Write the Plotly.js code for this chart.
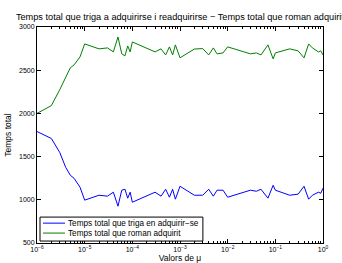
<!DOCTYPE html>
<html>
<head>
<meta charset="utf-8">
<script src="https://cdn.plot.ly/plotly-3.0.1.min.js"></script>
<style>html,body{margin:0;padding:0;background:#fff;}#chart{width:342px;height:263px;}</style>
</head>
<body>
<div id="chart"></div>
<script>
const mu = [1e-6, 2e-6, 3e-6, 4e-6, 5e-6, 6e-6, 8e-6, 1e-5, 2e-5, 3e-5, 4e-5, 5e-5, 6e-5, 7e-5, 8e-5, 9e-5, 1e-4,
  3e-4, 4e-4, 5e-4, 6e-4, 7e-4, 8e-4, 1e-3, 2e-3, 3e-3, 4e-3, 5e-3, 6e-3, 8e-3, 1e-2,
  3e-2, 4e-2, 5e-2, 7e-2, 9e-2, 1e-1, 0.2, 0.3, 0.4, 0.5, 0.6, 0.8, 0.9, 1];
const tempsTriga = [1790, 1710, 1548, 1376, 1284, 1249, 1145, 996, 1053, 1042, 1088, 926, 1111, 1122, 1019, 1088, 972,
  1088, 1042, 1122, 1030, 1122, 1007, 1157, 1053, 1053, 1122, 1042, 1111, 1111, 1030,
  1111, 1099, 1122, 1019, 1168, 1111, 1053, 1065, 1157, 1007, 1053, 1088, 1076, 1134];
const tempsRoman = [2000, 2090, 2274, 2424, 2528, 2562, 2654, 2804, 2747, 2758, 2712, 2885, 2689, 2666, 2781, 2712, 2827,
  2712, 2747, 2677, 2770, 2677, 2793, 2643, 2745, 2750, 2677, 2758, 2689, 2700, 2770,
  2689, 2700, 2677, 2793, 2631, 2700, 2747, 2724, 2643, 2804, 2758, 2712, 2724, 2677];
const seriesNames = ['Temps total que triga en adquirir−se', 'Temps total que roman adquirit'];
const seriesColors = ['#0000ff', '#008000'];
const xTicks = [1e-6, 1e-5, 1e-4, 1e-3, 1e-2, 1e-1, 1];
const xTickText = ['10<sup>−6</sup>', '10<sup>−5</sup>', '10<sup>−4</sup>', '10<sup>−3</sup>', '10<sup>−2</sup>', '10<sup>−1</sup>', '10<sup>0</sup>'];
const yTicks = [500, 1000, 1500, 2000, 2500, 3000];

const minorTicks = [];
for (let d = 0; d < xTicks.length - 1; d++) {
  for (let m = 2; m <= 9; m++) minorTicks.push(xTicks[d] * m);
}

const traces = [
  {x: mu, y: tempsTriga, type: 'scatter', mode: 'lines', name: seriesNames[0],
   line: {color: seriesColors[0], width: 1}, showlegend: false},
  {x: mu, y: tempsRoman, type: 'scatter', mode: 'lines', name: seriesNames[1],
   line: {color: seriesColors[1], width: 1}, showlegend: false}
];
const font = {family: 'Liberation Sans, Arial, sans-serif', color: '#000'};

// legend box (drawn in paper coordinates)
const lg = {x0: 0.0105, x1: 0.58, y0: 0.009, y1: 0.12, lx0: 0.021, lx1: 0.098, tx: 0.105, ys: [0.092, 0.046]};
const shapes = [
  {type: 'rect', xref: 'paper', yref: 'paper', x0: lg.x0, x1: lg.x1, y0: lg.y0, y1: lg.y1,
   line: {color: '#000', width: 1}, fillcolor: '#fff', layer: 'above'}
];
const annotations = [];
seriesNames.forEach((n, i) => {
  shapes.push({type: 'line', xref: 'paper', yref: 'paper', x0: lg.lx0, x1: lg.lx1, y0: lg.ys[i], y1: lg.ys[i],
    line: {color: seriesColors[i], width: 1}, layer: 'above'});
  annotations.push({xref: 'paper', yref: 'paper', x: lg.tx, y: lg.ys[i], xanchor: 'left', yanchor: 'middle',
    text: n, showarrow: false, font: {size: 8.2}, borderpad: 0});
});

const layout = {
  width: 342, height: 263,
  margin: {l: 37, r: 19, t: 27, b: 20, pad: 0},
  paper_bgcolor: '#fff', plot_bgcolor: '#fff',
  font: Object.assign({size: 7}, font),
  showlegend: false,
  title: {text: 'Temps total que triga a adquirirse i readquirirse − Temps total que roman adquirit',
    font: Object.assign({size: 9.2}, font), x: 0.526, xref: 'container', xanchor: 'center', y: 0.935, yanchor: 'middle'},
  xaxis: {type: 'log', range: [-6, 0], tickmode: 'array', tickvals: xTicks, ticktext: xTickText,
    ticks: 'inside', ticklen: 4, tickcolor: '#000', showline: true, linecolor: '#000', linewidth: 1,
    mirror: 'ticks', showgrid: false, zeroline: false, tickfont: {size: 7},
    minor: {tickmode: 'array', tickvals: minorTicks, ticks: 'inside', ticklen: 2, tickcolor: '#000', showgrid: false},
    title: {text: 'Valors de μ', font: {size: 8.5}, standoff: 12}, automargin: false},
  yaxis: {range: [500, 3000], tickvals: yTicks, ticks: 'inside', ticklen: 4, tickcolor: '#000',
    showline: true, linecolor: '#000', linewidth: 1, mirror: 'ticks', showgrid: false, zeroline: false,
    tickfont: {size: 7}, title: {text: 'Temps total', font: {size: 8.5}, standoff: 6}, automargin: false},
  shapes: shapes,
  annotations: annotations
};
Plotly.newPlot('chart', traces, layout, {staticPlot: true, displayModeBar: false});
</script>
</body>
</html>
